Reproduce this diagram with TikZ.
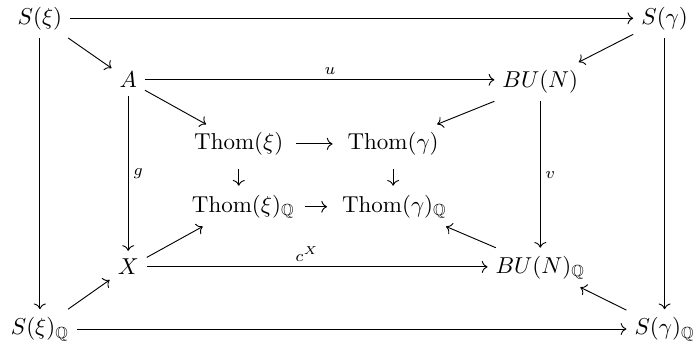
\documentclass[tikz,border=0pt]{standalone}
\usepackage{amsmath}
\usepackage{amssymb}
\usetikzlibrary{arrows.meta, calc}
\tikzset{
  obj/.style={inner sep=0.333em},
  map/.style={-{Computer Modern Rightarrow}, line width=0.4pt},
  lbl/.style={inner sep=2pt}
}
\begin{document}
\begin{tikzpicture}
  \useasboundingbox (0,0) rectangle (10.64,5.26);
  \node[obj] (sxi)   at (0.61,4.98)  {$S(\xi)$};
  \node[obj] (sgam)  at (10.16,4.98) {$S(\gamma)$};
  \node[obj] (a)     at (1.96,4.04)  {$A$};
  \node[obj] (bun)   at (8.26,4.01)  {$BU(N)$};
  \node[obj] (txi)   at (3.65,3.06)  {$\mathrm{Thom}(\xi)$};
  \node[obj] (tgam)  at (6.01,3.06)  {$\mathrm{Thom}(\gamma)$};
  \node[obj] (txiq)  at (3.72,2.10)  {$\mathrm{Thom}(\xi)_{\mathbb{Q}}$};
  \node[obj] (tgamq) at (6.03,2.10)  {$\mathrm{Thom}(\gamma)_{\mathbb{Q}}$};
  \node[obj] (x)     at (1.96,1.18)  {$X$};
  \node[obj] (bunq)  at (8.26,1.17)  {$BU(N)_{\mathbb{Q}}$};
  \node[obj] (sxiq)  at (0.61,0.23)  {$S(\xi)_{\mathbb{Q}}$};
  \node[obj] (sgamq) at (10.16,0.23) {$S(\gamma)_{\mathbb{Q}}$};

  \draw[map] (sxi)  -- (sgam);
  \draw[map] (sxiq) -- (sgamq);
  \draw[map] (sxi)  -- (sxiq);
  \draw[map] (sgam) -- (sgamq);
  \draw[map] (sxi)  -- (a);
  \draw[map] (sgam) -- (bun);
  \draw[map] (sxiq) -- (x);
  \draw[map] (sgamq) -- (bunq);
  \draw[map] (a) -- node[lbl, above, pos=0.53]{$\scriptstyle u$} (a -| bun.west);
  \draw[map] (x) -- node[lbl, above, pos=0.47]{$\scriptstyle c^X$} (x -| bunq.west);
  \draw[map] (a) -- node[lbl, right]{$\scriptstyle g$} (x);
  \draw[map] (bun) -- node[lbl, right]{$\scriptstyle v$} (bunq);
  \draw[map] (a.-32)    -- (txi.149);
  \draw[map] (bun.203)  -- (tgam.24);
  \draw[map] (x.27)     -- (txiq.206);
  \draw[map] (bunq.156) -- (tgamq.-21);
  \draw[map, shorten <=2pt, shorten >=3pt] (txi) -- (tgam);
  \draw[map, shorten <=1pt, shorten >=3pt] (txiq) -- (tgamq);
  \draw[map, shorten <=2.5pt, shorten >=0.5pt] (txi.south) -- (txi.south |- txiq.north);
  \draw[map, shorten <=2.5pt, shorten >=0.5pt] (tgam.south) -- (tgam.south |- tgamq.north);
\end{tikzpicture}
\end{document}
